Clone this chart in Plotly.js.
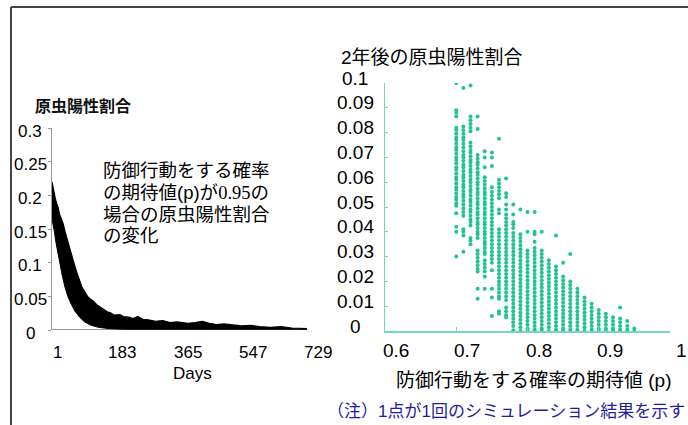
<!DOCTYPE html>
<html><head><meta charset="utf-8">
<script src="https://cdn.plot.ly/plotly-3.0.1.min.js"></script>
<style>html,body{margin:0;padding:0;background:#fff;}#chart{width:688px;height:425px;}</style>
</head><body><div id="chart"></div>
<script>
// ---------- Left panel: daily positive rate band (p = 0.95) ----------
const upperDays = [1,3,6,10,14,18,22,27,32,38,44,50,57,63,70,77,85,92,100,108,116,125,135,145,155,163,175,190,200,215,227,240,255,270,290,310,330,350,380,400,420,440,460,480,506,530,555,580,610,640,670,700,712];
const upperRate = [0.220,0.214,0.205,0.196,0.188,0.182,0.172,0.165,0.158,0.145,0.133,0.122,0.110,0.098,0.086,0.074,0.063,0.057,0.050,0.046,0.043,0.038,0.034,0.031,0.027,0.026,0.022,0.023,0.020,0.019,0.017,0.020,0.016,0.015,0.013,0.014,0.011,0.012,0.010,0.011,0.013,0.010,0.008,0.009,0.007,0.006,0.007,0.005,0.004,0.005,0.003,0.003,0.002];
const lowerDays = [1,4,8,12,18,24,30,37,45,55,65,78,92,110,130,160,200,240,712];
const lowerRate = [0.165,0.158,0.145,0.130,0.112,0.095,0.080,0.064,0.050,0.038,0.028,0.019,0.012,0.007,0.004,0.002,0.0005,0,0];
const leftXTicks = [1,183,365,547,729];
const leftYTicks = [0,0.05,0.1,0.15,0.2,0.25,0.3];
const leftYTickText = ['0','0.05','0.1','0.15','0.2','0.25','0.3'];

// ---------- Right panel: positive rate after 2 years, per p (values in ‰) ----------
const pValues = [0.70,0.71,0.72,0.73,0.74,0.75,0.76,0.77,0.78,0.79,0.80,0.81,0.82,0.83,0.84,0.85,0.86,0.87,0.88,0.89,0.90,0.91,0.92,0.93,0.94,0.95];
const ratePermil = [
 [100,89,88,86.5,82,81,79.5,78,77,75.5,74,73,71.5,70,69,67.5,66,65,63.5,62,61,59.5,58,57,55.5,54,53,51.5,50.5,47.5,42,40,30],
 [98,82.5,81,79.5,78,77,75.5,74,72.5,71,70,68.5,67,66,64.5,63,62,60.5,59,58,56.5,55,54,52.5,51,49.5,48,46.5,41,40,38.5,32],
 [99,86.5,85,83.5,82,80.5,76,74.5,73,72,70.5,69,68,66.5,65,64,62.5,61,60,58.5,57,56,54.5,53,52,50.5,49,48,46.5,45,44,42.5,37.5,36.5,35],
 [86.5,81.5,71,69.5,68,67,65.5,64,63,61.5,60,59,57.5,56,55,53.5,52,51,49.5,48,47,45.5,44,43,41.5,40,39,37.5,32.5,31,29.5,28,26.5,25,24,17,13],
 [72.5,70,66,62,60.5,59,57.5,56,55,53.5,52,51,49.5,48,47,45.5,44,43,41.5,40,39,37.5,36,35,33.5,32,31,28.5,27,25.5,24,22,17],
 [72,70,66.5,58,56,54.5,53,51.5,50,48.5,47,45.5,44,42.5,41,39.5,38,36.5,35,33.5,32,30.5,29,27.5,24.5,17,13.5,6],
 [77.5,61,59.5,58,56.5,55,53.5,49,47.5,41,39.5,38,36.5,35,33.5,32,30.5,29,27.5,26,24.5,23,21.5,20,18.5,17,15.5,14,13,8,7],
 [61.5,55.5,54,51,49,47,45.5,44,42.5,41,39.5,38,36.5,35,33.5,32,30.5,29,27.5,26,24.5,23,21.5,20,18.5,17,15.5,14,12.5,9.5,8,6.5,5.5],
 [51,47,44,43,41.5,39.5,38,36.5,35,33.5,32,30.5,29,27.5,26,24.5,23,21.5,20,18.5,17,15.5,14,12.5,11,9.5,8,6.5,5,3.5,2,0.3],
 [49,39,37.5,36,34.5,33,31.5,30,28.5,27,25.5,24,22.5,21,19.5,18,16.5,15,13.5,12,10.5,9,7.5,6,4.5,3,1.5,0],
 [48,40,32.5,31,29.5,28,26.5,25,23.5,22,20.5,19,17.5,16,14.5,13,11.5,10,8.5,7,5.5,4,2.5,1,0],
 [48,40,39,36,33.5,32,30.5,29,27.5,26,24.5,23,21.5,20,18.5,17,15.5,14,12.5,11,9.5,8,6.5,5,3.5,2,0.5],
 [40,32.5,31,29.5,28,26.5,25,23.5,22,20.5,19,17.5,16,14.5,13,11.5,10,8.5,7,5.5,4,2.5,1,0],
 [28.5,27,25.5,24,22.5,21,19.5,18,16.5,15,13.5,12,10.5,9,7.5,6,4.5,3,1.5,0],
 [38.5,26,24.5,23,21.5,20,18.5,17,15.5,14,12.5,11,9.5,8,6.5,5,3.5,2,0.5],
 [27.5,22,20.5,19,17.5,16,14.5,13,11.5,10,8.5,7,5.5,4,2.5,1,0],
 [31,20,18.5,17,15.5,14,12.5,11,9.5,8,6.5,5,3.5,2,0.5],
 [17,15.5,14,12.5,11,9.5,8,6.5,5,3.5,2,0.5],
 [13.5,12,10.5,9,7.5,6,4.5,3,1.5,0],
 [11,9.5,8,6.5,5,3.5,2,0.5],
 [8.5,7,5.5,4,2.5,1,0],
 [7,5.5,4,2.5,1,0],
 [5.5,4,2.5,1,0],
 [9.5,5,3.5,2,0.5],
 [4,2,0.5],
 [1,0]
];
const rightXTicks = [0.6,0.7,0.8,0.9,1];
const rightXTickText = ['0.6','0.7','0.8','0.9','1'];
const rightYTicks = [0,0.01,0.02,0.03,0.04,0.05,0.06,0.07,0.08,0.09,0.1];
const rightYTickText = ['0','0.01','0.02','0.03','0.04','0.05','0.06','0.07','0.08','0.09','0.1'];

// ---------- Texts ----------
const leftYTitle = '原虫陽性割合';
const leftNote = ['防御行動をする確率', 'の期待値(p)が<span style="font-family:Liberation Serif,serif">0.95</span>の', '場合の原虫陽性割合', 'の変化'];
const leftXTitle = 'Days';
const rightTitle = '2年後の原虫陽性割合';
const rightXTitle = '防御行動をする確率の期待値 (p)';
const footNote = '（注）1点が1回のシミュレーション結果を示す';

// ---------- Build ----------
const W = 688, H = 425;
const px = v => v / W, py = v => 1 - v / H;
const FONT = 'Liberation Sans, Arial, Noto Sans CJK JP, sans-serif';
const JFONT = 'Liberation Sans, Noto Sans CJK JP, sans-serif';
const teal = '#22c393', tealAxis = '#74d6c2';

const sx = [], sy = [];
ratePermil.forEach((col, i) => col.forEach(v => { sx.push(pValues[i]); sy.push(v / 1000); }));

const traces = [
  {x: lowerDays, y: lowerRate, xaxis: 'x', yaxis: 'y', mode: 'lines', line: {color: '#000', width: 1}, hoverinfo: 'skip', showlegend: false},
  {x: upperDays, y: upperRate, xaxis: 'x', yaxis: 'y', mode: 'lines', fill: 'tonexty', fillcolor: '#000', line: {color: '#000', width: 1.2}, hoverinfo: 'skip', showlegend: false},
  {x: sx, y: sy, xaxis: 'x2', yaxis: 'y2', mode: 'markers', marker: {color: teal, size: 4}, showlegend: false}
];

const annotations = [];
leftYTicks.forEach((v, i) => annotations.push({xref: 'paper', yref: 'y', x: px(30), y: v, text: leftYTickText[i], showarrow: false, xanchor: 'center', yanchor: 'middle', yshift: -3, font: {family: FONT, size: 17, color: '#000'}}));
leftXTicks.forEach(v => annotations.push({xref: 'x', yref: 'paper', x: v, y: py(352), text: String(v), showarrow: false, xanchor: 'center', yanchor: 'middle', xshift: 5, font: {family: FONT, size: 17, color: '#000'}}));
rightYTicks.forEach((v, i) => annotations.push({xref: 'paper', yref: 'y2', x: px(355), y: v, text: rightYTickText[i], showarrow: false, xanchor: 'center', yanchor: 'middle', yshift: 5, font: {family: FONT, size: 19, color: '#000'}}));
rightXTicks.forEach((v, i) => annotations.push({xref: 'x2', yref: 'paper', x: v, y: py(350), text: rightXTickText[i], showarrow: false, xanchor: 'center', yanchor: 'middle', xshift: 11, font: {family: FONT, size: 19, color: '#000'}}));
annotations.push({xref: 'paper', yref: 'paper', x: px(33), y: py(105), text: '<b>' + leftYTitle + '</b>', showarrow: false, xanchor: 'left', yanchor: 'middle', font: {family: 'Noto Sans CJK JP, sans-serif', size: 16, color: '#111'}});
const noteY = [170, 192, 214, 235.5];
leftNote.forEach((t, i) => annotations.push({xref: 'paper', yref: 'paper', x: px(101), y: py(noteY[i]), text: t, showarrow: false, xanchor: 'left', yanchor: 'middle', font: {family: JFONT, size: 18.5, color: '#000'}}));
annotations.push({xref: 'paper', yref: 'paper', x: px(192), y: py(373), text: leftXTitle, showarrow: false, xanchor: 'center', yanchor: 'middle', font: {family: FONT, size: 17, color: '#000'}});
annotations.push({xref: 'paper', yref: 'paper', x: px(339), y: py(57), text: rightTitle, showarrow: false, xanchor: 'left', yanchor: 'middle', font: {family: JFONT, size: 19, color: '#000'}});
annotations.push({xref: 'paper', yref: 'paper', x: px(534), y: py(380), text: rightXTitle, showarrow: false, xanchor: 'center', yanchor: 'middle', font: {family: JFONT, size: 19, color: '#000'}});
annotations.push({xref: 'paper', yref: 'paper', x: px(687), y: py(411), text: footNote, showarrow: false, xanchor: 'right', yanchor: 'middle', font: {family: JFONT, size: 17, color: '#1e1ea0'}});

const shapes = [
  // outer frame (top and left)
  {type: 'line', xref: 'paper', yref: 'paper', x0: px(11), x1: 1.01, y0: py(7), y1: py(7), line: {color: '#444', width: 2}},
  {type: 'line', xref: 'paper', yref: 'paper', x0: px(11), x1: px(11), y0: py(7), y1: -0.01, line: {color: '#444', width: 2}},
  // left x baseline over the simulated days
  {type: 'line', xref: 'x', yref: 'y', x0: upperDays[0], x1: upperDays[upperDays.length - 1], y0: 0, y1: 0, line: {color: '#333', width: 1.2}}
];

const layout = {
  width: W, height: H, autosize: false,
  margin: {l: 0, r: 0, t: 0, b: 0},
  paper_bgcolor: '#fff', plot_bgcolor: 'rgba(0,0,0,0)',
  showlegend: false,
  xaxis: {domain: [px(52), px(313)], range: [1, 729], anchor: 'y', showgrid: false, zeroline: false, showline: false, showticklabels: false, ticks: ''},
  yaxis: {domain: [py(330), py(128)], range: [0, 0.3], anchor: 'x', showgrid: false, zeroline: false, showline: true, linecolor: '#999', linewidth: 1,
          tickmode: 'array', tickvals: leftYTicks, ticks: 'outside', ticklen: 3, tickcolor: '#999', showticklabels: false},
  xaxis2: {domain: [px(385), px(670)], range: [0.6, 1.0], anchor: 'y2', showgrid: false, zeroline: false, showline: true, linecolor: tealAxis, linewidth: 1.5,
           tickmode: 'array', tickvals: rightXTicks, ticks: 'inside', ticklen: 4, tickcolor: tealAxis, showticklabels: false},
  yaxis2: {domain: [py(331), py(83)], range: [0, 0.1], anchor: 'x2', showgrid: false, zeroline: false, showline: true, linecolor: tealAxis, linewidth: 1.5,
           tickmode: 'array', tickvals: rightYTicks, ticks: 'inside', ticklen: 3, tickcolor: tealAxis, showticklabels: false},
  annotations: annotations,
  shapes: shapes
};

Plotly.newPlot('chart', traces, layout, {displayModeBar: false, staticPlot: true});
</script>
</body></html>
